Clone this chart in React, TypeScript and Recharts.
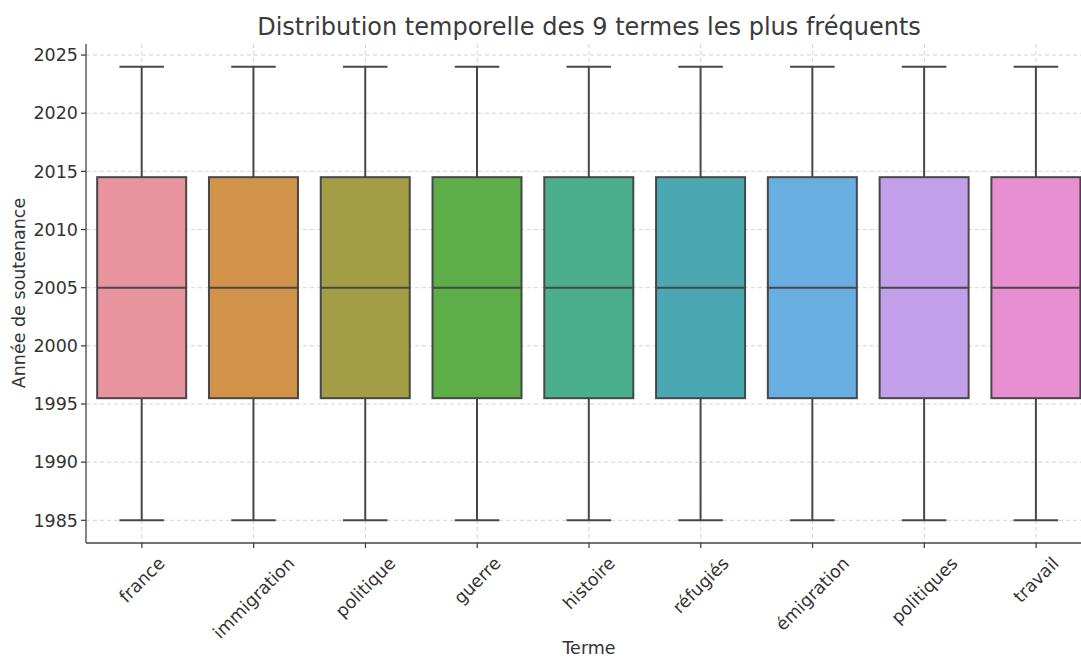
import React from "react";
import { Bar, BarChart, CartesianGrid, XAxis, YAxis } from "recharts";

const terms = ["france", "immigration", "politique", "guerre", "histoire", "réfugiés", "émigration", "politiques", "travail"];
const whiskerLow = [1985, 1985, 1985, 1985, 1985, 1985, 1985, 1985, 1985];
const q1 = [1995.5, 1995.5, 1995.5, 1995.5, 1995.5, 1995.5, 1995.5, 1995.5, 1995.5];
const median = [2005, 2005, 2005, 2005, 2005, 2005, 2005, 2005, 2005];
const q3 = [2014.5, 2014.5, 2014.5, 2014.5, 2014.5, 2014.5, 2014.5, 2014.5, 2014.5];
const whiskerHigh = [2024, 2024, 2024, 2024, 2024, 2024, 2024, 2024, 2024];
const yTicks = [1985, 1990, 1995, 2000, 2005, 2010, 2015, 2020, 2025];
const yDomain: [number, number] = [1983.05, 2025.95];

const boxColors = ["#e8949f", "#d09349", "#a39e46", "#5dad49", "#4baf8d", "#4ba8b3", "#68aee0", "#c29fe9", "#e88fd1"];

const data = terms.map((term, i) => ({
  term,
  box: [q1[i], q3[i]],
  low: whiskerLow[i],
  med: median[i],
  high: whiskerHigh[i],
}));

const FONT = '"DejaVu Sans", sans-serif';
const TICK_SIZE = 17.5;
const INK = "#333333";
const EDGE = "#474747";

let ctx: CanvasRenderingContext2D | null = null;
const textWidth = (s: string, size: number) => {
  if (!ctx) ctx = document.createElement("canvas").getContext("2d");
  if (!ctx) return s.length * size * 0.6;
  ctx.font = `${size}px "DejaVu Sans"`;
  return ctx.measureText(s).width;
};

// horizontal grid only at the y ticks (no line at the plot's top edge)
const gridRows = ({ offset }: any) =>
  yTicks.map((t) => offset.top + ((yDomain[1] - t) / (yDomain[1] - yDomain[0])) * offset.height);

const BoxShape = (props: any) => {
  const { x, y, width, height, payload, index } = props;
  const [lo, hi] = payload.box;
  const k = height / (hi - lo);
  const cx = x + width / 2;
  const yHigh = y - (payload.high - hi) * k;
  const yLow = y + height + (lo - payload.low) * k;
  const yMed = y + (hi - payload.med) * k;
  const cap = width / 4;
  return (
    <g>
      <line x1={cx} x2={cx} y1={yHigh} y2={y} stroke={EDGE} strokeWidth={2} />
      <line x1={cx} x2={cx} y1={y + height} y2={yLow} stroke={EDGE} strokeWidth={2} />
      <line x1={cx - cap} x2={cx + cap} y1={yHigh} y2={yHigh} stroke={EDGE} strokeWidth={2} />
      <line x1={cx - cap} x2={cx + cap} y1={yLow} y2={yLow} stroke={EDGE} strokeWidth={2} />
      <rect x={x} y={y} width={width} height={height} fill={boxColors[index]} stroke={EDGE} strokeWidth={2} />
      <line x1={x} x2={x + width} y1={yMed} y2={yMed} stroke={EDGE} strokeWidth={2} />
    </g>
  );
};

const RotatedTick = (props: any) => {
  const { x, y, payload } = props;
  const label = String(payload.value);
  const w = textWidth(label, TICK_SIZE);
  const h = TICK_SIZE * 1.17;
  const cy = y + ((w + h) * Math.SQRT1_2) / 2;
  return (
    <text
      x={x}
      y={cy}
      textAnchor="middle"
      dominantBaseline="central"
      transform={`rotate(-45, ${x}, ${cy})`}
      fill={INK}
      fontSize={TICK_SIZE}
      fontFamily={FONT}
    >
      {label}
    </text>
  );
};

export default function App() {
  return (
    <div style={{ position: "fixed", left: 0, top: 0, width: 1081, height: 659, overflow: "hidden", background: "#fff" }}>
      <BarChart
        width={1100}
        height={659}
        data={data}
        margin={{ top: 44, right: 8, bottom: 0, left: 0 }}
        barCategoryGap="10%"
      >
        <CartesianGrid
          stroke="#d4d4d4"
          strokeDasharray="4 3"
          strokeWidth={1}
          syncWithTicks
          horizontalCoordinatesGenerator={gridRows}
        />
        <XAxis
          dataKey="term"
          interval={0}
          tick={<RotatedTick />}
          tickSize={5}
          tickMargin={5}
          stroke="#444"
          strokeWidth={1.3}
          height={116}
        />
        <YAxis
          type="number"
          domain={yDomain}
          ticks={yTicks}
          allowDataOverflow
          width={86}
          tickSize={5}
          tickMargin={3}
          stroke="#444"
          strokeWidth={1.3}
          tick={{ fill: INK, fontSize: TICK_SIZE, fontFamily: FONT }}
        />
        <Bar dataKey="box" shape={<BoxShape />} isAnimationActive={false} />
      </BarChart>
      <svg width={1081} height={659} style={{ position: "absolute", left: 0, top: 0, pointerEvents: "none" }}>
        <text x={589} y={27} textAnchor="middle" dominantBaseline="central" fill="#3a3a3a" fontSize={24} fontFamily={FONT}>
          Distribution temporelle des 9 termes les plus fréquents
        </text>
        <text x={589} y={648} textAnchor="middle" dominantBaseline="central" fill={INK} fontSize={17.5} fontFamily={FONT}>
          Terme
        </text>
        <text
          x={19}
          y={293}
          textAnchor="middle"
          dominantBaseline="central"
          transform="rotate(-90, 19, 293)"
          fill={INK}
          fontSize={17.5}
          fontFamily={FONT}
        >
          Année de soutenance
        </text>
      </svg>
    </div>
  );
}
